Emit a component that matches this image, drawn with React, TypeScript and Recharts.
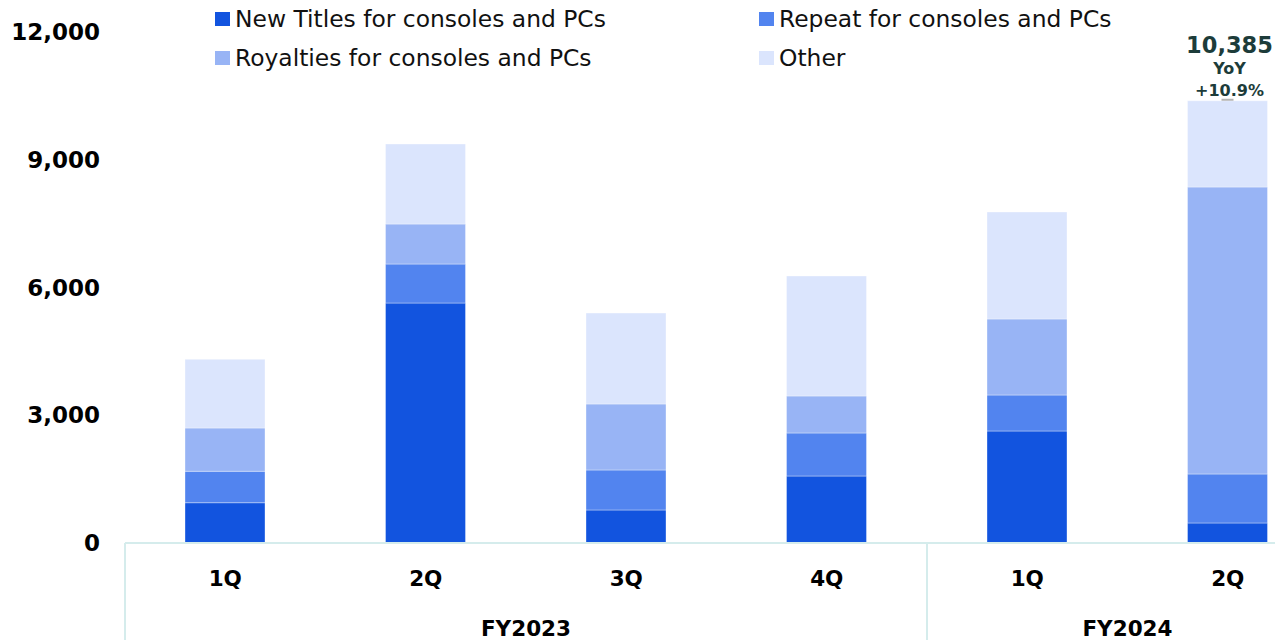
import { Bar, BarChart, XAxis, YAxis, LabelList } from "recharts"

const fiscalYears = ["FY2023", "FY2023", "FY2023", "FY2023", "FY2024", "FY2024"]
const quarters = ["1Q", "2Q", "3Q", "4Q", "1Q", "2Q"]
const newTitles = [946, 5635, 775, 1573, 2630, 470]
const repeat = [738, 916, 939, 1010, 845, 1150]
const royalties = [1016, 939, 1550, 869, 1785, 6739]
const other = [1613, 1879, 2136, 2817, 2512, 2026]
const yTicks = [0, 3000, 6000, 9000, 12000]
const latestTotal = "10,385"
const latestYoY = "+10.9%"

const series = [
  { key: "newTitles", name: "New Titles for consoles and PCs", color: "#1254df" },
  { key: "repeat", name: "Repeat for consoles and PCs", color: "#5284ef" },
  { key: "royalties", name: "Royalties for consoles and PCs", color: "#98b4f5" },
  { key: "other", name: "Other", color: "#dbe5fd" },
]

const data = quarters.map((q, i) => ({
  key: `${fiscalYears[i]}-${q}`,
  quarter: q,
  fy: fiscalYears[i],
  newTitles: newTitles[i],
  repeat: repeat[i],
  royalties: royalties[i],
  other: other[i],
}))

const FONT = "'DejaVu Sans', Verdana, sans-serif"
const CHART_W = 1340
const CHART_H = 640
const LEFT = 125
const RIGHT = 12
const BAND = (CHART_W - LEFT - RIGHT) / data.length
const SEP = "#d5ecec"

function YTick({ y, payload }: any) {
  return (
    <text x={100} y={y} dy={8} textAnchor="end" fontFamily={FONT} fontWeight="bold" fontSize={23} fill="#000">
      {Number(payload.value).toLocaleString("en-US")}
    </text>
  )
}

function XTick({ x, y, index }: any) {
  const d = data[index]
  const first = index === 0 || data[index - 1].fy !== d.fy
  let groupLabel = null
  if (first) {
    const n = data.filter((r) => r.fy === d.fy).length
    const left = x - BAND / 2
    groupLabel = (
      <g>
        <line x1={left} x2={left} y1={y} y2={y + 97} stroke={SEP} strokeWidth={2} />
        <text x={left + (n * BAND) / 2} y={y + 93} textAnchor="middle" fontFamily={FONT} fontWeight="bold" fontSize={21.5} fill="#000">
          {d.fy}
        </text>
      </g>
    )
  }
  return (
    <g>
      <text x={x} y={y + 43} textAnchor="middle" fontFamily={FONT} fontWeight="bold" fontSize={21.5} fill="#000">
        {d.quarter}
      </text>
      {groupLabel}
    </g>
  )
}

function TotalLabel(props: any) {
  const { x, y, width, index } = props
  if (index !== data.length - 1) return null
  const cx = x + width / 2 + 2
  return (
    <g fontFamily={FONT} fontWeight="bold" fill="#1d3c3a" textAnchor="middle">
      <text x={cx} y={y - 48} fontSize={22.5}>{latestTotal}</text>
      <text x={cx} y={y - 27} fontSize={16}>YoY</text>
      <text x={cx} y={y - 5} fontSize={16}>{latestYoY}</text>
      <line x1={cx - 8} x2={cx + 4} y1={y - 1} y2={y - 1} stroke="#b5b5b5" strokeWidth={2} />
    </g>
  )
}

function LegendBox() {
  const pos = [
    { left: 215, top: 6 },
    { left: 759, top: 6 },
    { left: 215, top: 45 },
    { left: 759, top: 45 },
  ]
  return (
    <div style={{ position: "absolute", left: 0, top: 0, fontFamily: FONT, fontSize: 23.4, color: "#111" }}>
      {series.map((s, i) => (
        <div key={s.key} style={{ position: "absolute", left: pos[i].left, top: pos[i].top, whiteSpace: "nowrap", display: "flex", alignItems: "center", lineHeight: "26px" }}>
          <span style={{ display: "inline-block", width: 15, height: 14, background: s.color, marginRight: 5 }} />
          <span>{s.name}</span>
        </div>
      ))}
    </div>
  )
}

export default function App() {
  return (
    <div style={{ position: "absolute", left: 0, top: 0, width: 1275, height: 640, overflow: "hidden", background: "#fff" }}>
      <BarChart width={CHART_W} height={CHART_H} data={data} margin={{ top: 32, right: RIGHT, left: 0, bottom: 0 }}>
        <XAxis
          dataKey="key"
          height={97}
          tickLine={false}
          tickSize={0}
          tickMargin={0}
          axisLine={{ stroke: SEP, strokeWidth: 2 }}
          tick={<XTick />}
          interval={0}
        />
        <YAxis
          width={LEFT}
          domain={[0, 12000]}
          ticks={yTicks}
          axisLine={false}
          tickLine={false}
          tick={<YTick />}
        />
        {series.map((s) => (
          <Bar key={s.key} dataKey={s.key} name={s.name} stackId="a" fill={s.color} barSize={80} stroke="#ffffff" strokeOpacity={0.35} strokeWidth={1} isAnimationActive={false}>
            {s.key === "other" && <LabelList dataKey="other" content={<TotalLabel />} />}
          </Bar>
        ))}
      </BarChart>
      <LegendBox />
    </div>
  )
}
